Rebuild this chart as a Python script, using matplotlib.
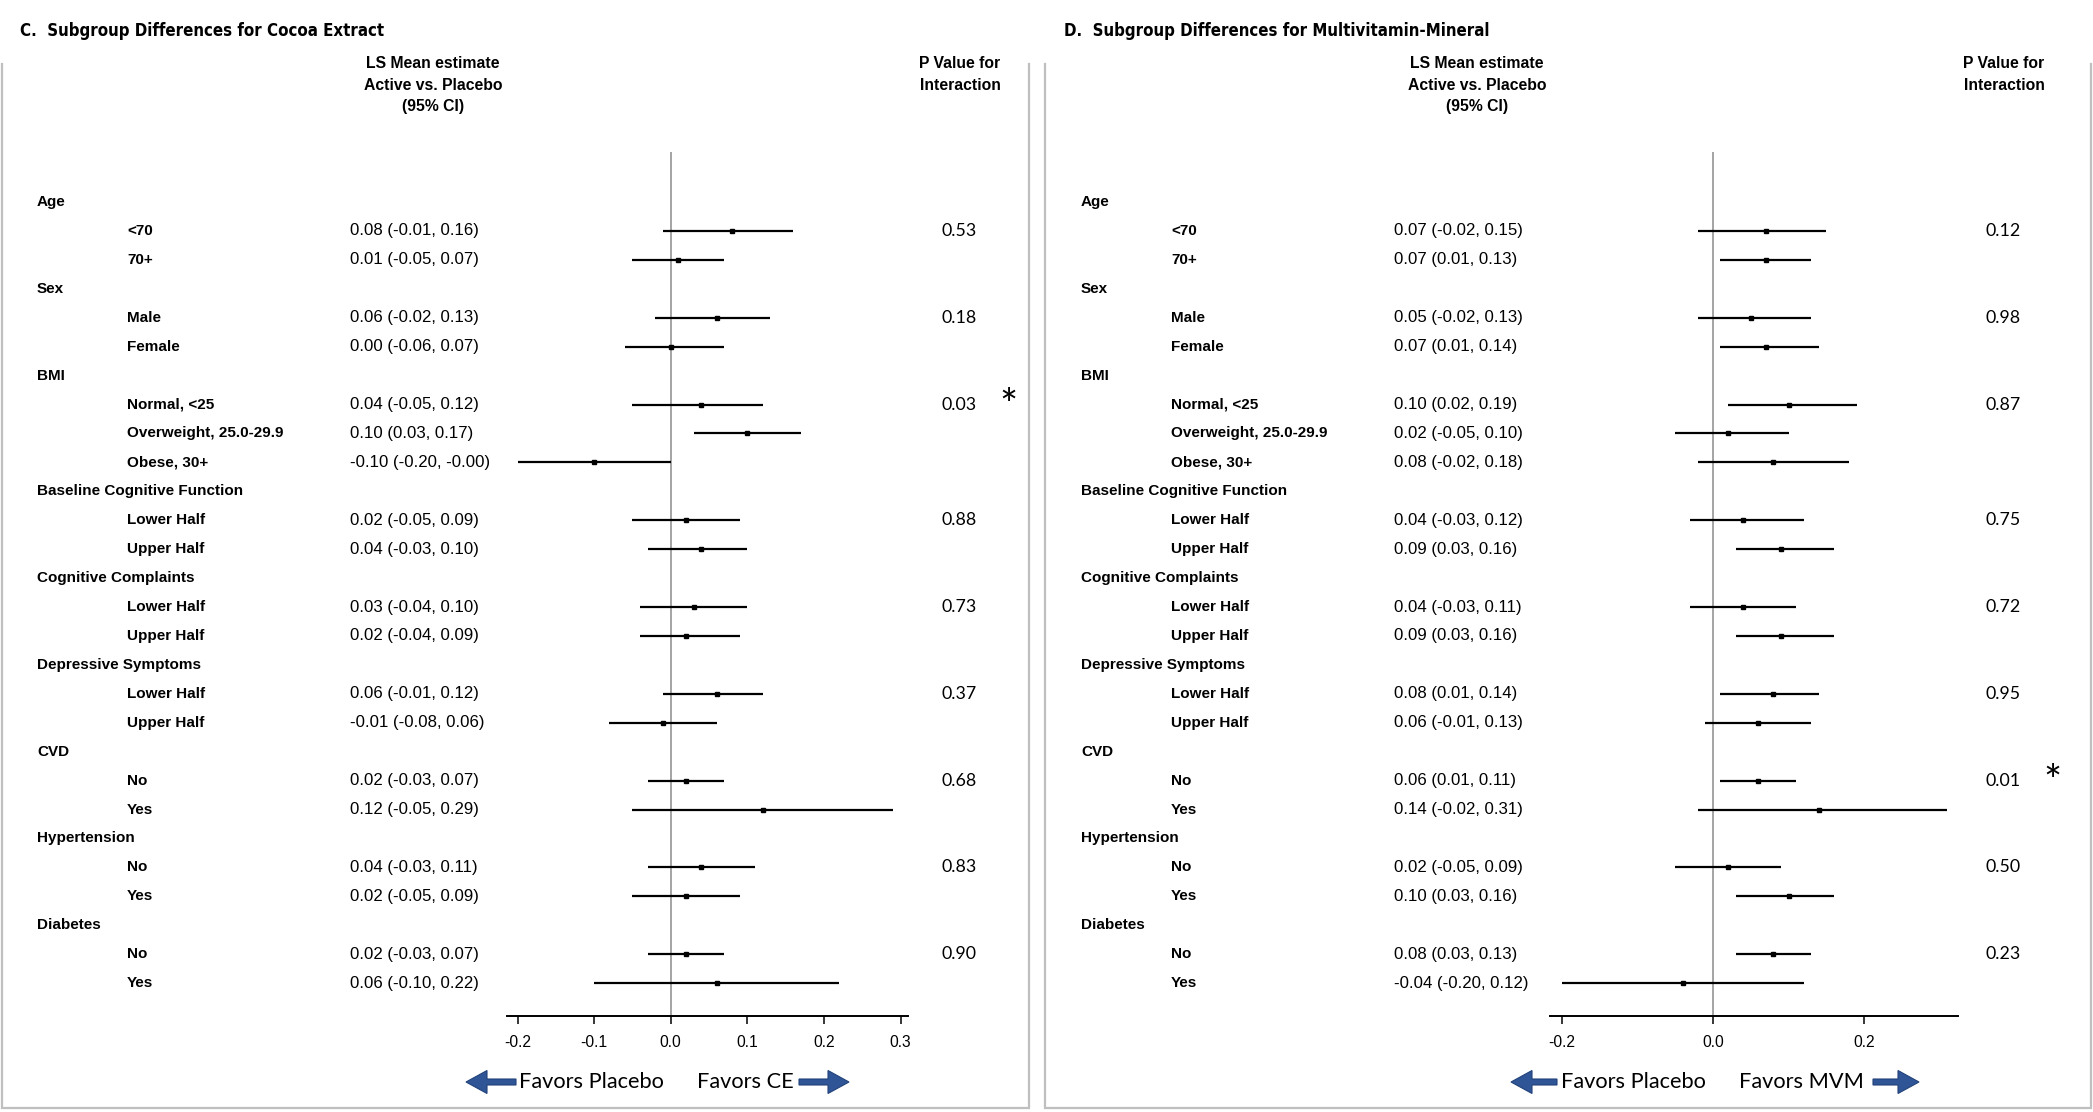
import matplotlib
matplotlib.use("Agg")
import matplotlib.pyplot as plt
from matplotlib import font_manager
from matplotlib.font_manager import FontProperties
from matplotlib.transforms import blended_transform_factory
from matplotlib.patches import FancyArrow

# ---------------- data ----------------
groups = ["Age", "Sex", "BMI", "Baseline Cognitive Function", "Cognitive Complaints",
          "Depressive Symptoms", "CVD", "Hypertension", "Diabetes"]
subgroups = [["<70", "70+"], ["Male", "Female"],
             ["Normal, <25", "Overweight, 25.0-29.9", "Obese, 30+"],
             ["Lower Half", "Upper Half"], ["Lower Half", "Upper Half"],
             ["Lower Half", "Upper Half"], ["No", "Yes"], ["No", "Yes"], ["No", "Yes"]]

ce_est = [0.08, 0.01, 0.06, 0.00, 0.04, 0.10, -0.10, 0.02, 0.04, 0.03, 0.02,
          0.06, -0.01, 0.02, 0.12, 0.04, 0.02, 0.02, 0.06]
ce_lo = [-0.01, -0.05, -0.02, -0.06, -0.05, 0.03, -0.20, -0.05, -0.03, -0.04, -0.04,
         -0.01, -0.08, -0.03, -0.05, -0.03, -0.05, -0.03, -0.10]
ce_hi = [0.16, 0.07, 0.13, 0.07, 0.12, 0.17, -0.00, 0.09, 0.10, 0.10, 0.09,
         0.12, 0.06, 0.07, 0.29, 0.11, 0.09, 0.07, 0.22]
ce_p = [0.53, 0.18, 0.03, 0.88, 0.73, 0.37, 0.68, 0.83, 0.90]
ce_ticks = [-0.2, -0.1, 0.0, 0.1, 0.2, 0.3]

mvm_est = [0.07, 0.07, 0.05, 0.07, 0.10, 0.02, 0.08, 0.04, 0.09, 0.04, 0.09,
           0.08, 0.06, 0.06, 0.14, 0.02, 0.10, 0.08, -0.04]
mvm_lo = [-0.02, 0.01, -0.02, 0.01, 0.02, -0.05, -0.02, -0.03, 0.03, -0.03, 0.03,
          0.01, -0.01, 0.01, -0.02, -0.05, 0.03, 0.03, -0.20]
mvm_hi = [0.15, 0.13, 0.13, 0.14, 0.19, 0.10, 0.18, 0.12, 0.16, 0.11, 0.16,
          0.14, 0.13, 0.11, 0.31, 0.09, 0.16, 0.13, 0.12]
mvm_p = [0.12, 0.98, 0.87, 0.75, 0.72, 0.95, 0.01, 0.50, 0.23]
mvm_ticks = [-0.2, 0.0, 0.2]

# ---------------- layout / style ----------------
W, H = 2093, 1112
ARIAL = ["Liberation Sans", "DejaVu Sans"]
CAL = ["Lato", "Liberation Sans", "DejaVu Sans"]

# look for a condensed bold face for the titles
title_fp = None
for f in font_manager.fontManager.ttflist:
    nm = f.name.lower()
    cond = ("narrow" in nm or "condensed" in nm or
            str(f.stretch) in ("condensed", "semi-condensed", "extra-condensed", "ultra-condensed"))
    w = f.weight if isinstance(f.weight, int) else {"bold": 700}.get(str(f.weight), 400)
    if cond and w >= 600 and str(f.style) == "normal":
        title_fp = FontProperties(fname=f.fname)
        break
if title_fp is None:
    title_fp = FontProperties(family=ARIAL, weight="bold")
    TITLE_W = 345
else:
    TITLE_W = 362

fig = plt.figure(figsize=(W / 100, H / 100), dpi=100)
fig.patch.set_facecolor("white")
renderer = fig.canvas.get_renderer()


def fit_size(text, target_px, **kw):
    t = fig.text(0, 0, text, fontsize=10, **kw)
    w = t.get_window_extent(renderer).width
    t.remove()
    return 10.0 * target_px / w


fs_title = fit_size("C.  Subgroup Differences for Cocoa Extract", TITLE_W, fontproperties=title_fp)
title_fp.set_size(fs_title)
fs_head = fit_size("LS Mean estimate", 133, family=ARIAL, weight="bold")
fs_lab = fit_size("Overweight, 25.0-29.9", 156, family=ARIAL, weight="bold")
fs_val = fit_size("0.08 (-0.01, 0.16)", 128, family=ARIAL)
fs_tick = fit_size("-0.2", 27, family=ARIAL)
fs_p = fit_size("0.53", 35, family=CAL)
fs_fav = fit_size("Favors Placebo", 145, family=CAL)

bg = fig.add_axes([0, 0, 1, 1])
bg.set_xlim(0, W)
bg.set_ylim(H, 0)
bg.axis("off")

ROW0, ROWSTEP = 202.0, 28.93
AXIS_Y, ZERO_TOP = 1015.7, 152.0
HEAD_Y, HEAD_STEP = 64.0, 21.0
BORDER = "#BFBFBF"
ARROW_FC, ARROW_EC = "#2F5597", "#22427A"

panels = [
    dict(title="C.  Subgroup Differences for Cocoa Extract", est=ce_est, lo=ce_lo, hi=ce_hi,
         p=ce_p, ticks=ce_ticks, favors="Favors CE", ox=0, box=(1.5, 1029),
         zero=670.7, unit=766.0, axl=506.7, axr=908.0,
         arrows=((516, 466), (799, 849))),
    dict(title="D.  Subgroup Differences for Multivitamin-Mineral", est=mvm_est, lo=mvm_lo,
         hi=mvm_hi, p=mvm_p, ticks=mvm_ticks, favors="Favors MVM", ox=1044, box=(1045, 2091),
         zero=1712.9, unit=756.0, axl=1550.0, axr=1957.7,
         arrows=((1557, 1511), (1873, 1919))),
]

for pn in panels:
    ox = pn["ox"]
    # box
    x0, x1 = pn["box"]
    bg.plot([x0, x0, x1, x1], [64, 1108, 1108, 64], color=BORDER, lw=1.6,
            solid_joinstyle="miter")
    # title
    bg.text(ox + 20, 36, pn["title"], fontproperties=title_fp, va="baseline", ha="left")
    # headers
    for k, s in enumerate(["LS Mean estimate", "Active vs. Placebo", "(95% CI)"]):
        bg.text(ox + 433, HEAD_Y + HEAD_STEP * k, s, family=ARIAL, weight="bold",
                fontsize=fs_head, ha="center", va="center")
    for k, s in enumerate(["P Value for", "Interaction"]):
        bg.text(ox + 960, HEAD_Y + HEAD_STEP * k, s, family=ARIAL, weight="bold",
                fontsize=fs_head, ha="center", va="center")

    # forest axes
    ax = fig.add_axes([pn["axl"] / W, 1 - AXIS_Y / H, (pn["axr"] - pn["axl"]) / W,
                       (AXIS_Y - ZERO_TOP) / H])
    ax.set_facecolor("none")
    ax.set_xlim((pn["axl"] - pn["zero"]) / pn["unit"], (pn["axr"] - pn["zero"]) / pn["unit"])
    ax.set_ylim((AXIS_Y - ROW0) / ROWSTEP, (ZERO_TOP - ROW0) / ROWSTEP)
    for sp in ("left", "right", "top"):
        ax.spines[sp].set_visible(False)
    ax.spines["bottom"].set_linewidth(1.4)
    ax.spines["bottom"].set_color("black")
    ax.set_yticks([])
    ax.set_xticks(pn["ticks"])
    ax.set_xticklabels([f"{t:.1f}" for t in pn["ticks"]], family=ARIAL, fontsize=fs_tick)
    ax.tick_params(axis="x", direction="out", length=6, width=1.1, color="black", pad=8)
    ax.axvline(0, color="#8C8C8C", lw=1.1, zorder=0)

    tr = blended_transform_factory(bg.transData, ax.transData)

    row = 0
    k = 0
    rows, est, lo, hi = [], [], [], []
    for g, (gname, subs) in enumerate(zip(groups, subgroups)):
        ax.text(ox + 37, row, gname, transform=tr, family=ARIAL, weight="bold",
                fontsize=fs_lab, ha="left", va="center")
        row += 1
        first = row
        for s in subs:
            ax.text(ox + 127, row, s, transform=tr, family=ARIAL, weight="bold",
                    fontsize=fs_lab, ha="left", va="center")
            e, l, h = pn["est"][k], pn["lo"][k], pn["hi"][k]
            ax.text(ox + 350, row, f"{e:.2f} ({l:.2f}, {h:.2f})", transform=tr,
                    family=ARIAL, fontsize=fs_val, ha="left", va="center")
            rows.append(row)
            est.append(e)
            lo.append(l)
            hi.append(h)
            k += 1
            row += 1
        pv = pn["p"][g]
        ax.text(ox + 959, first, f"{pv:.2f}", transform=tr, family=CAL, fontsize=fs_p,
                ha="center", va="center")
        if pv < 0.05:
            ax.text(ox + 1008, first + 0.1, "*", transform=tr, family=CAL,
                    fontsize=fs_p * 2.4, ha="center", va="center")

    ax.hlines(rows, lo, hi, color="black", lw=1.6, zorder=3)
    ax.plot(est, rows, "s", ms=3.4, color="black", zorder=4)

    # favors row
    z = pn["zero"]
    bg.text(z - 6.7, 1082, "Favors Placebo", family=CAL, fontsize=fs_fav, ha="right",
            va="center")
    bg.text(z + 26, 1082, pn["favors"], family=CAL, fontsize=fs_fav, ha="left", va="center")
    for tail, tip in pn["arrows"]:
        bg.add_patch(FancyArrow(tail, 1082, tip - tail, 0, width=6, head_width=23,
                                head_length=21, length_includes_head=True,
                                fc=ARROW_FC, ec=ARROW_EC, lw=0.8))

fig.savefig("out.png", dpi=100, facecolor="white")
